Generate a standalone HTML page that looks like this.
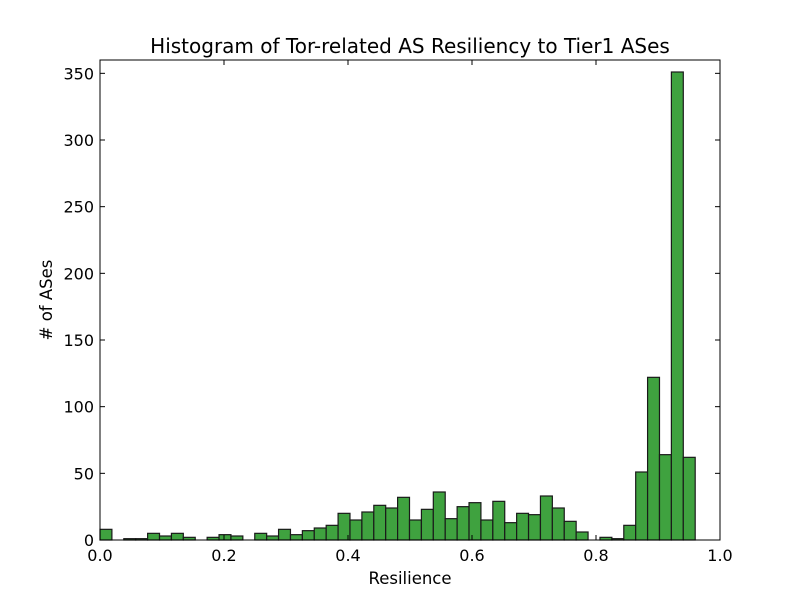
<!DOCTYPE html>
<html><head><meta charset="utf-8"><style>body{margin:0;background:#fff}svg text{font-family:"DejaVu Sans","Liberation Sans",sans-serif}</style></head>
<body>
<svg id="chart" width="800" height="600">
<rect width="800" height="600" fill="#fff"/>
<g id="bars"></g>
<g id="axes"></g>
<text x="410" y="53" font-size="20" text-anchor="middle">Histogram of Tor-related AS Resiliency to Tier1 ASes</text>
<text x="410" y="584" font-size="16.5" text-anchor="middle">Resilience</text>
<text x="52" y="300" font-size="16.5" text-anchor="middle" transform="rotate(-90 52 300)"># of ASes</text>
</svg>
<script>
const counts=[8,0,1,1,5,3,5,2,0,2,4,3,0,5,3,8,4,7,9,11,20,15,21,26,24,32,15,23,36,16,25,28,15,29,13,20,19,33,24,14,6,0,2,1,11,51,122,64,351,62];
const binStart=0, binWidth=0.0192;
const xTicks=[0,0.2,0.4,0.6,0.8,1.0];
const xTickLabels=["0.0","0.2","0.4","0.6","0.8","1.0"];
const yTicks=[0,50,100,150,200,250,300,350];
const L=100,R=720,T=60,B=540,YMAX=360;
const xs=v=>L+(v-0)/(1-0)*(R-L);
const ys=v=>B-v/YMAX*(B-T);
const NS="http://www.w3.org/2000/svg";
const bars=document.getElementById('bars'),axes=document.getElementById('axes');
function mk(t,a,p){const e=document.createElementNS(NS,t);for(const k in a)e.setAttribute(k,a[k]);p.appendChild(e);return e;}
counts.forEach((c,i)=>{
 const x0=xs(binStart+i*binWidth),x1=xs(binStart+(i+1)*binWidth);
 const r=mk('rect',{x:x0,y:ys(c),width:x1-x0,height:B-ys(c),fill:'#3fa23f',stroke:'#1a1a1a','stroke-width':1.2},bars);
 
 
});
const frame=mk('rect',{x:L,y:T,width:R-L,height:B-T,fill:'none',stroke:'#000','stroke-width':1},axes);


xTicks.forEach((v,i)=>{
 const x=xs(v);
 mk('line',{x1:x,x2:x,y1:B,y2:B-5,stroke:'#000'},axes);
 mk('line',{x1:x,x2:x,y1:T,y2:T+5,stroke:'#000'},axes);
 const t=mk('text',{x:x,y:B+21,'font-size':16,'text-anchor':'middle'},axes);
 t.textContent=xTickLabels[i];
 
 
});
yTicks.forEach(v=>{
 const y=ys(v);
 mk('line',{x1:L,x2:L+5,y1:y,y2:y,stroke:'#000'},axes);
 mk('line',{x1:R,x2:R-5,y1:y,y2:y,stroke:'#000'},axes);
 const t=mk('text',{x:L-6,y:y+6,'font-size':16,'text-anchor':'end'},axes);
 t.textContent=v;
 
 
});
</script>
</body></html>
